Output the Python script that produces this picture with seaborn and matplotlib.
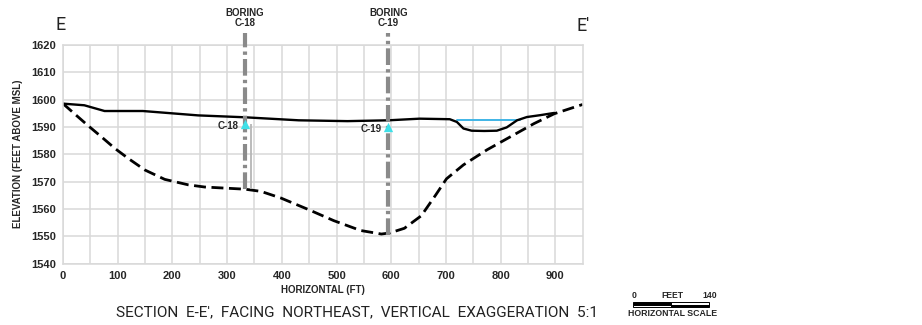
import pandas as pd
import matplotlib.pyplot as plt
import matplotlib.patches as mpatches
import seaborn as sns

# Ground surface profile (solid line)
surface_x = [0, 39, 76, 146, 247, 333, 431, 520, 595, 652, 707, 720, 732, 747, 770, 793, 811, 830, 848, 873, 898]
surface_y = [1598.5, 1597.9, 1595.8, 1595.8, 1594.2, 1593.5, 1592.4, 1592.1, 1592.4, 1593.0, 1592.8, 1591.8, 1589.4, 1588.6, 1588.5, 1588.6, 1589.8, 1592.4, 1593.6, 1594.3, 1595.1]

# Bedrock profile (dashed line)
bedrock_x = [0, 21, 45, 70, 95, 119, 150, 186, 229, 259, 296, 333, 362, 398, 447, 495, 544, 582, 597, 624, 655, 681, 701, 732, 775, 818, 861, 898, 950]
bedrock_y = [1598.5, 1594.8, 1590.6, 1586.4, 1582.1, 1578.5, 1574.2, 1570.8, 1568.8, 1568.0, 1567.6, 1567.2, 1566.4, 1564.0, 1559.9, 1555.7, 1552.1, 1550.8, 1551.2, 1552.9, 1557.5, 1565.0, 1571.0, 1576.1, 1581.6, 1586.4, 1591.2, 1594.8, 1598.2]

# Pond water level
water_x = [720, 836]
water_y = [1592.4, 1592.4]

# Borings
boring_names = ["C-18", "C-19"]
boring_x = [333, 595]
boring_top = [1624.3, 1624.3]
boring_bottom = [1567.2, 1550.6]
water_level = [1591.2, 1590.0]

x_ticks = [0, 100, 200, 300, 400, 500, 600, 700, 800, 900]
y_ticks = [1540, 1550, 1560, 1570, 1580, 1590, 1600, 1610, 1620]

title = "SECTION  E-E',  FACING  NORTHEAST,  VERTICAL  EXAGGERATION  5:1"

sns.set_style("white")
plt.rcParams["font.family"] = ["Liberation Sans", "DejaVu Sans"]
thin = ["Roboto", "DejaVu Sans"]

fig = plt.figure(figsize=(9.22, 3.25), dpi=100)
ax = fig.add_axes([0.0683, 0.189, 0.5637, 0.673])

surf = pd.DataFrame({"x": surface_x, "y": surface_y})
rock = pd.DataFrame({"x": bedrock_x, "y": bedrock_y})
water = pd.DataFrame({"x": water_x, "y": water_y})

sns.lineplot(data=water, x="x", y="y", color="#3fb4e6", linewidth=1.4, sort=False, estimator=None, ax=ax)
sns.lineplot(data=surf, x="x", y="y", color="black", linewidth=1.7, sort=False, estimator=None, ax=ax)
sns.lineplot(data=rock, x="x", y="y", color="black", linewidth=2.0, sort=False, estimator=None,
             linestyle=(0, (4.3, 2.0)), ax=ax)

# boring lines
ax.vlines(boring_x, boring_bottom, boring_top, colors="#8a8a8a", linewidth=3,
          linestyles=[(0, (4.0, 1.0, 0.8, 1.0))], clip_on=False, zorder=3)
ax.vlines([343], [1567.2], [1591.0], colors="#b5b5b5", linewidth=1.3, zorder=2)

sns.scatterplot(x=boring_x, y=water_level, marker="^", s=45, color="#3fe0e8",
                edgecolor="#3fe0e8", linewidth=0, zorder=5, ax=ax)

for name, bx, wl in zip(boring_names, boring_x, water_level):
    ax.text(bx - 12, wl - 0.8, name, ha="right", va="center", fontsize=7, fontweight="bold")
    ax.text(bx, 1629.8, "BORING\n" + name, ha="center", va="center", fontsize=7,
            fontweight="bold", linespacing=1.0, clip_on=False)

ax.set_xlim(0, 950)
ax.set_ylim(1540, 1620)
ax.set_xticks(x_ticks)
ax.set_xticks(range(50, 950, 100), minor=True)
ax.set_yticks(y_ticks)
ax.set_xticklabels([str(t) for t in x_ticks], fontsize=8, fontweight="bold")
ax.set_yticklabels([str(t) for t in y_ticks], fontsize=8, fontweight="bold")
ax.tick_params(which="both", length=0, pad=5)
ax.grid(True, which="both", color="#d9d9d9", linewidth=1.1)
ax.set_axisbelow(True)
for sp in ax.spines.values():
    sp.set_color("#d9d9d9")
    sp.set_linewidth(1.1)

ax.set_xlabel("HORIZONTAL (FT)", fontsize=7, fontweight="bold", labelpad=3)
ax.set_ylabel("ELEVATION (FEET ABOVE MSL)", fontsize=7, fontweight="bold", labelpad=6)

ax.text(-4, 1627.2, "E", ha="center", va="center", fontsize=13, family=thin, color="#222222", clip_on=False)
ax.text(950, 1627, "E'", ha="center", va="center", fontsize=13, family=thin, color="#222222", clip_on=False)

# bottom caption, sized so it spans the same width as in the drawing
cap = fig.text(357 / 922, 1 - 312 / 325, title, ha="center", va="center",
               fontsize=12, family=thin, color="#222222")
renderer = fig.canvas.get_renderer()
w = cap.get_window_extent(renderer).width
cap.set_fontsize(12 * 481 / w)

# horizontal scale bar
fig.text(632 / 922, 1 - 295 / 325, "0", ha="left", va="center", fontsize=6.2, fontweight="bold")
fig.text(672 / 922, 1 - 295 / 325, "FEET", ha="center", va="center", fontsize=6.2, fontweight="bold")
fig.text(717 / 922, 1 - 295 / 325, "140", ha="right", va="center", fontsize=6.2, fontweight="bold")
for x0, fill_top in [(632.5, "black"), (670.5, "white")]:
    fill_bot = "white" if fill_top == "black" else "black"
    fig.add_artist(mpatches.Rectangle((x0 / 922, 1 - 304.7 / 325), 38 / 922, 2.5 / 325,
                                      facecolor=fill_top, edgecolor="black", linewidth=0.7,
                                      transform=fig.transFigure))
    fig.add_artist(mpatches.Rectangle((x0 / 922, 1 - 307.2 / 325), 38 / 922, 2.5 / 325,
                                      facecolor=fill_bot, edgecolor="black", linewidth=0.7,
                                      transform=fig.transFigure))
fig.text(673 / 922, 1 - 313.5 / 325, "HORIZONTAL SCALE", ha="center", va="center",
         fontsize=6.3, fontweight="bold")

fig.savefig("out.png", dpi=100)
